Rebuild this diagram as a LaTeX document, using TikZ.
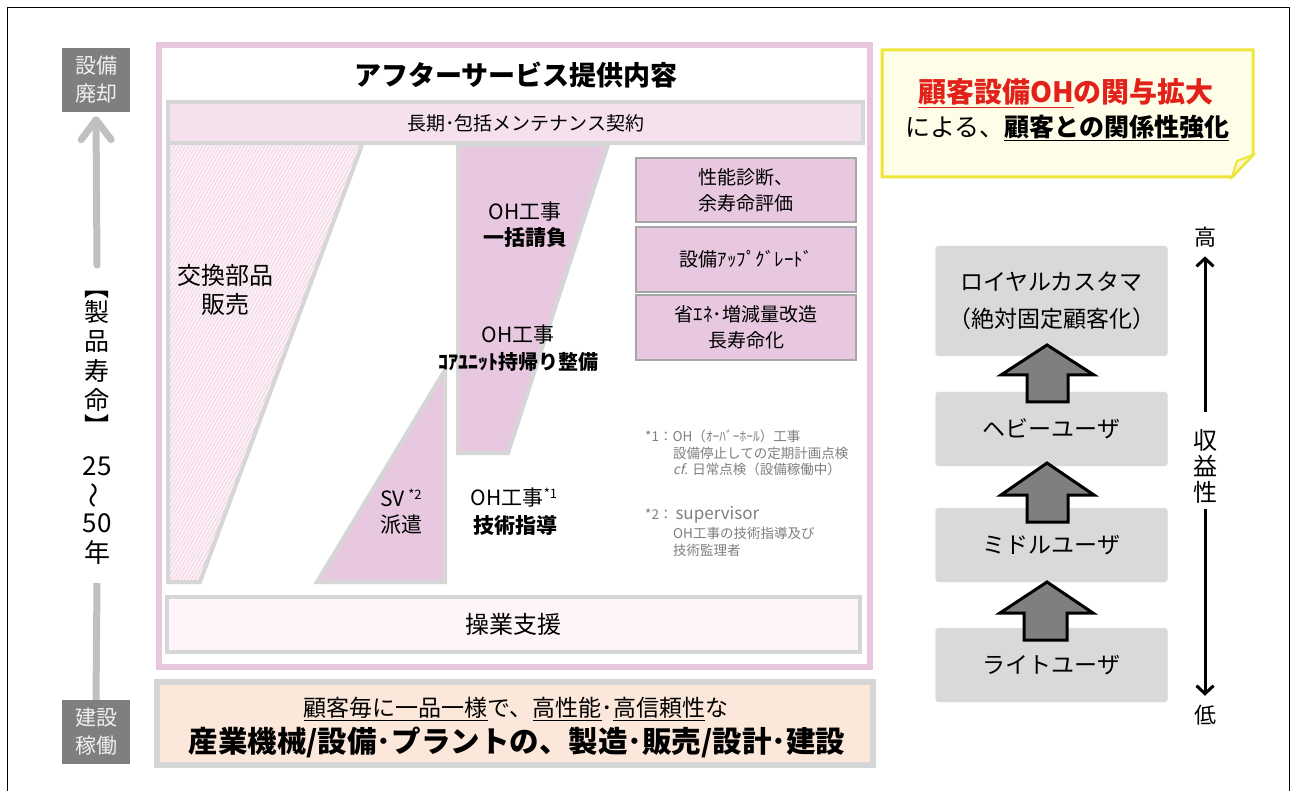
\documentclass[tikz,border=0pt]{standalone}
\usepackage{fontspec}
\usepackage{graphicx}
\setmainfont{Noto Sans CJK JP}
\newfontfamily\slfont[FakeSlant=0.2]{Noto Sans CJK JP}
\usetikzlibrary{patterns.meta,arrows.meta}
\definecolor{pinkframe}{HTML}{E8C6DE}
\definecolor{pinkfill}{HTML}{E8C8E0}
\definecolor{pinklight}{HTML}{F5E1EE}
\definecolor{pinkpale}{HTML}{FDF5F9}
\definecolor{hatchbg}{HTML}{FCF1F6}
\definecolor{hatchln}{HTML}{F0CFE0}
\definecolor{lgray}{HTML}{D6D6D6}
\definecolor{mgray}{HTML}{A6A6A6}
\definecolor{dgray}{HTML}{7F7F7F}
\definecolor{agray}{HTML}{C0C0C0}
\definecolor{notegray}{HTML}{7F7F7F}
\definecolor{peach}{HTML}{FCE8DA}
\definecolor{yfill}{HTML}{FEFDE8}
\definecolor{yline}{HTML}{EEE53A}
\definecolor{yfold}{HTML}{FBF7C8}
\definecolor{redtxt}{HTML}{E3211B}
\definecolor{boxgray}{HTML}{D9D9D9}
\newcommand\fs[2]{\fontsize{#1}{#2}\selectfont}
\begin{document}
\begin{tikzpicture}[x=1pt,y=-1pt,
  txt/.style={inner sep=0pt, align=center, text=black},
  darkbox/.style={fill=dgray, text=white!94!black, minimum width=68pt, minimum height=64pt, inner sep=0pt, align=center},
  svcbox/.style={fill=pinkfill, draw=mgray, line width=2.5pt, minimum width=220pt, inner sep=0pt, align=center},
  custbox/.style={fill=boxgray, draw=boxgray!80!white, rounded corners=3pt, minimum width=232pt, inner sep=0pt, align=center},
  blockarrow/.style={fill=dgray, draw=black, line width=3pt, line join=miter},
  grayarrow/.style={draw=agray, line width=7pt, line cap=round},
  axisarrow/.style={draw=black, line width=3pt, -{Straight Barb[length=8pt,width=17pt]}},
  bandborder/.style={draw=lgray, line width=4pt},
  note/.style={inner sep=0pt, anchor=west, text=notegray, font=\fs{13.5}{16}}
]
\useasboundingbox (0,0) rectangle (1293,791);
% outer frame
\draw[black, line width=1pt] (7,800) -- (7,8) -- (1289,8) -- (1289,800);

% ---------- left column ----------
\node[darkbox, font=\fs{21}{28}] (haiki) at (96,80) {設備\\廃却};
\node[darkbox, font=\fs{21}{28}] (kado) at (96,732) {建設\\稼働};
\node[txt, font=\fs{25}{29.5}, rotate=-90] (brtop) at (97,287) {【};
\node[txt, font=\fs{25}{29.5}] (life) at (97,356) {製\\品\\寿\\命};
\node[txt, font=\fs{25}{29.5}, rotate=-90] (brbot) at (97,426) {】};
\node[txt, font=\fs{26}{30}] (n25) at (97,466) {25};
\node[txt, font=\fs{26}{30}, rotate=90] (tilde) at (97,495) {～};
\node[txt, font=\fs{26}{30}] (n50) at (97,523) {50};
\node[txt, font=\fs{26}{30}] (nen) at (97,553) {年};
\coordinate (arrstart) at (97,265);
\coordinate (linestart) at (97,583);
\draw[grayarrow, -{Straight Barb[length=20pt,width=30pt,round]}] (arrstart) -- ([yshift=-4pt]haiki.south);
\draw[grayarrow, line cap=butt] (linestart) -- (kado.north);

% ---------- main pink frame ----------
\draw[pinkframe, line width=6pt, fill=white] (158.5,45) rectangle (870,667);
\node[txt, font=\bfseries\fs{27}{30}] (title) at (516,75) {アフターサービス提供内容};

% left hatched trapezoid
\path[fill=hatchbg] (168,145) -- (362,145) -- (200,582) -- (168,582) -- cycle;
\path[pattern={Lines[angle=60,distance=3pt,line width=0.7pt]}, pattern color=hatchln] (168,145) -- (362,145) -- (200,582) -- (168,582) -- cycle;
\draw[bandborder, line join=miter] (362,145) -- (200,582) -- (168,582) -- (168,145);
% middle trapezoid
\filldraw[bandborder, fill=pinkfill] (458,145) -- (608,145) -- (508,453) -- (458,453) -- cycle;
% SV triangle
\filldraw[bandborder, fill=pinkfill] (445,370) -- (445,582) -- (317,582) -- cycle;

% long-term contract bar
\node[fill=pinklight, draw=lgray, line width=4pt, minimum width=695pt, minimum height=41pt, inner sep=0pt] (contract) at (515.5,122.5) {};
\node[txt, font=\fs{19}{22}] (contracttxt) at (526,123) {長期･包括メンテナンス契約};

% texts in shapes
\node[txt, font=\fs{24}{29}] (parts) at (225,290) {交換部品\\販売};
\node[txt, font=\fs{21}{25}] (oh1) at (525,212) {OH工事};
\node[txt, font=\bfseries\fs{21}{25}] (oh1b) at (525,238) {一括請負};
\node[txt, font=\fs{21}{25}] (oh2) at (518,335) {OH工事};
\node[txt, font=\bfseries\fs{20}{25}] (oh2b) at (518,362) {ｺｱﾕﾆｯﾄ持帰り整備};
\node[txt, anchor=west, font=\fs{21}{25}] (sv) at (380,498) {SV\,\raisebox{0.35em}{\fs{13}{15}*2}};
\node[txt, anchor=west, font=\fs{21}{25}] (haken) at (380,525) {派遣};
\node[txt, font=\fs{21}{25}] (oh3) at (514,498) {OH工事\raisebox{0.35em}{\fs{13}{15}*1}};
\node[txt, font=\bfseries\fs{21}{25}] (oh3b) at (515,525) {技術指導};

% right service boxes
\node[svcbox, minimum height=64pt, font=\fs{19}{26}] (perf) at (746,190) {性能診断、\\余寿命評価};
\node[svcbox, minimum height=65pt, font=\fs{19}{26}] (upg) at (746,259.5) {設備ｱｯﾌﾟｸﾞﾚｰﾄﾞ};
\node[svcbox, minimum height=65pt, font=\fs{19}{26}] (eco) at (746,327.5) {省ｴﾈ･増減量改造\\長寿命化};

% notes
\node[note] (n1a) at (645,436) {*1：OH（ｵｰﾊﾞｰﾎｰﾙ）工事};
\node[note] (n1b) at (673,453) {設備停止しての定期計画点検};
\node[note] (n1c) at (673,469) {{\slfont cf}. 日常点検（設備稼働中）};
\node[note] (n2a) at (645,515) {*2： {\fs{17}{20}supervisor}};
\node[note] (n2b) at (673,533) {OH工事の技術指導及び};
\node[note] (n2c) at (673,550) {技術監理者};

% operation support bar
\node[fill=pinkpale, draw=lgray, line width=4pt, minimum width=693pt, minimum height=55pt, inner sep=0pt, font=\fs{24}{26}] (ops) at (513.5,624.5) {操業支援};

% bottom box
\node[fill=peach, draw=lgray, line width=6pt, minimum width=716pt, minimum height=83pt, inner sep=0pt] (base) at (515,723.5) {};
\node[txt, font=\fs{23}{26}] (base1) at (516,709) {\underline{顧客毎に一品一様}で、\underline{高性能}･\underline{高信頼性}な};
\node[txt, font=\bfseries\fs{29.5}{32}] (base2) at (517,742) {産業機械/設備･プラントの、製造･販売/設計･建設};

% ---------- yellow note ----------
\filldraw[fill=yfill, draw=yline, line width=3pt, line join=miter] (882,50) -- (1253,50) -- (1253,155) -- (1232,177) -- (882,177) -- cycle;
\filldraw[fill=yfold, draw=yline, line width=2pt] (1253,155) -- (1232,177) -- (1237,161) -- cycle;
\node[txt, font=\bfseries\fs{28}{30}, text=redtxt] (msg1) at (1066,93) {\underline{顧客設備OH}の関与拡大};
\node[txt, font=\fs{25}{30}] (msg2) at (1067,128) {による、\textbf{\underline{顧客との関係性強化}}};

% ---------- customer pyramid ----------
\node[custbox, minimum height=110pt, font=\fs{23}{37}] (loyal) at (1051.5,301) {ロイヤルカスタマ\\（絶対固定顧客化）};
\node[custbox, minimum height=74pt, font=\fs{23}{27}] (heavy) at (1051.5,429) {ヘビーユーザ};
\node[custbox, minimum height=74pt, font=\fs{23}{27}] (middle) at (1051.5,545) {ミドルユーザ};
\node[custbox, minimum height=74pt, font=\fs{23}{27}] (light) at (1051.5,665) {ライトユーザ};

% block arrows
\filldraw[blockarrow] (1047,345) -- (1094,375) -- (1068,375) -- (1068,402) -- (1027,402) -- (1027,375) -- (1001,375) -- cycle;
\filldraw[blockarrow] (1047,463) -- (1094,495) -- (1068,495) -- (1068,522) -- (1027,522) -- (1027,495) -- (1001,495) -- cycle;
\filldraw[blockarrow] (1047,582) -- (1093,613) -- (1067,613) -- (1067,640) -- (1024,640) -- (1024,613) -- (1000,613) -- cycle;

% revenue axis
\node[txt, font=\fs{22}{26}] (high) at (1205,237) {高};
\node[txt, font=\fs{24}{26}] (rev) at (1205,466) {収\\益\\性};
\node[txt, font=\fs{22}{26}] (low) at (1205,715) {低};
\draw[axisarrow] ([yshift=17pt]rev.north) -- ([yshift=-9pt]high.south);
\draw[axisarrow] ([yshift=-6pt]rev.south) -- ([yshift=9pt]low.north);
\end{tikzpicture}
\end{document}
